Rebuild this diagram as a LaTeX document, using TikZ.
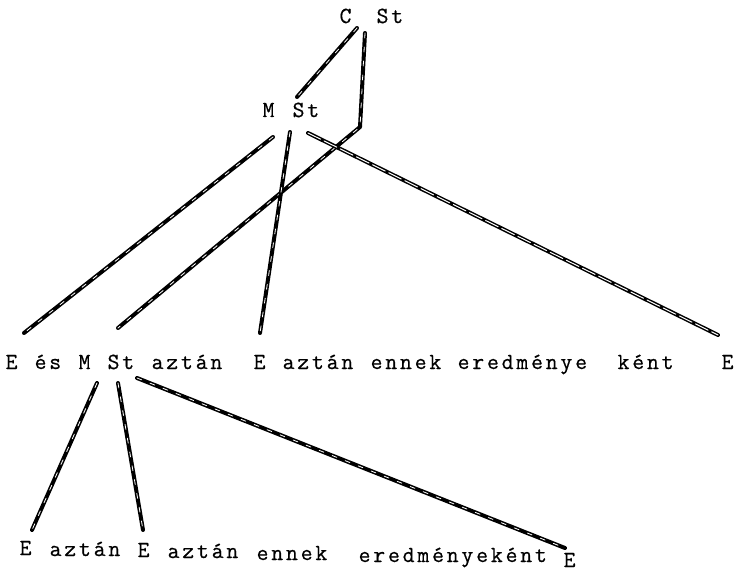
\documentclass[tikz,border=0pt]{standalone}
\usepackage{fontspec}
\newfontfamily\twfont{Latin Modern Mono}[FakeBold=0.6]
\ExplSyntaxOn
\NewDocumentCommand\tw{m}{\tl_map_inline:nn {#1}{\makebox[14.7pt][c]{##1}}}
\ExplSyntaxOff
\tikzset{
  word/.style={inner sep=0pt, anchor=base west, font=\twfont\fontsize{23}{23}\selectfont},
  ink/.style={line width=4pt, line cap=round, line join=round,
    postaction={draw=white, line width=0.8pt, dash pattern=on 5pt off 9pt}},
  hollow/.style={line width=4pt, line cap=round, line join=round,
    postaction={draw=white, line width=1pt, dash pattern=on 14pt off 4pt}}
}
\begin{document}
\begin{tikzpicture}[x=1pt,y=-1pt]
\useasboundingbox[fill=white] (0,0) rectangle (739,580);
% top
\node[word] (cC) at (338,23) {\tw{C}};
\node[word] (cSt) at (375,23) {\tw{St}};
\node[word] (mM) at (261,117) {\tw{M}};
\node[word] (mSt) at (291,117) {\tw{St}};
% row 3
\node[word] (r3e1) at (4,369) {\tw{E}};
\node[word] (r3es) at (33,369) {\tw{és}};
\node[word] (r3m) at (77,369) {\tw{M}};
\node[word] (r3st) at (106,369) {\tw{St}};
\node[word] (r3a1) at (150,369) {\tw{aztán}};
\node[word] (r3e2) at (252,369) {\tw{E}};
\node[word] (r3a2) at (281,369) {\tw{aztán}};
\node[word] (r3en) at (369,369) {\tw{ennek}};
\node[word] (r3er) at (456,369) {\tw{eredménye}};
\node[word] (r3k) at (616,369) {\tw{ként}};
\node[word] (r3e3) at (720,369) {\tw{E}};
% row 4
\node[word] (r4e1) at (18,555) {\tw{E}};
\node[word] (r4a1) at (48,556) {\tw{aztán}};
\node[word] (r4e2) at (136,557) {\tw{E}};
\node[word] (r4a2) at (166,558) {\tw{aztán}};
\node[word] (r4en) at (255,560) {\tw{ennek}};
\node[word] (r4er) at (357,562) {\tw{eredményeként}};
\node[word] (r4e3) at (562,567) {\tw{E}};
% connectors
\coordinate (bend) at (360,127);
\draw[ink] ([shift={(19,5)}]cC.base west) -- ([shift={(36,-20)}]mM.base west);
\draw[ink] ([shift={(-10,10)}]cSt.base west) -- (bend) -- ([shift={(12,-41)}]r3st.base west);
\draw[ink] ([shift={(12,20)}]mM.base west) -- ([shift={(20,-36)}]r3e1.base west);
\draw[ink] ([shift={(-1,15)}]mSt.base west) -- ([shift={(8,-36)}]r3e2.base west);
\draw[hollow] ([shift={(17,16)}]mSt.base west) -- ([shift={(-2,-34)}]r3e3.base west);
\draw[ink] ([shift={(-9,14)}]r3st.base west) -- ([shift={(14,-25)}]r4e1.base west);
\draw[ink] ([shift={(12,14)}]r3st.base west) -- ([shift={(7,-27)}]r4e2.base west);
\draw[ink] ([shift={(31,9)}]r3st.base west) -- ([shift={(3,-19)}]r4e3.base west);
\end{tikzpicture}
\end{document}
